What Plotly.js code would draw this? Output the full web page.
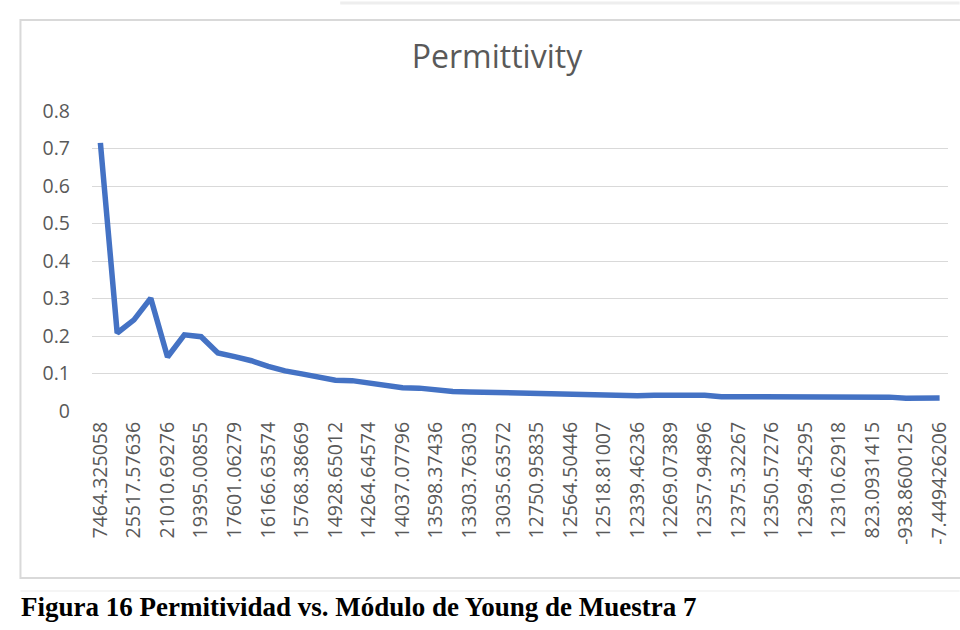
<!DOCTYPE html>
<html>
<head>
<meta charset="utf-8">
<script src="https://cdn.plot.ly/plotly-3.0.1.min.js"></script>
<style>
  html, body { margin: 0; padding: 0; background: #ffffff; }
  #chart { width: 960px; height: 630px; }
</style>
</head>
<body>
<div id="chart"></div>
<script>
// ---- data ----
const chartTitle = "Permittivity";
const caption = "Figura 16 Permitividad vs. Módulo de Young de Muestra 7";

// visible category labels (every other category is labeled)
const tickLabels = [
  "7464.325058", "25517.57636", "21010.69276", "19395.00855", "17601.06279",
  "16166.63574", "15768.38669", "14928.65012", "14264.64574", "14037.07796",
  "13598.37436", "13303.76303", "13035.63572", "12750.95835", "12564.50446",
  "12518.81007", "12339.46236", "12269.07389", "12357.94896", "12375.32267",
  "12350.57276", "12369.45295", "12310.62918", "823.0931415", "-938.8600125",
  "-7.449426206"
];

// permittivity values, one per category (51 categories)
const permittivity = [
  0.715, 0.208, 0.243, 0.301, 0.144, 0.203, 0.198, 0.155, 0.145, 0.134,
  0.119, 0.107, 0.099, 0.090, 0.082, 0.081, 0.075, 0.068, 0.062, 0.061,
  0.055, 0.052, 0.051, 0.050, 0.047, 0.046, 0.048, 0.047, 0.044, 0.044,
  0.044, 0.041, 0.041, 0.042, 0.042, 0.042, 0.042, 0.038, 0.038, 0.038,
  0.038, 0.038, 0.038, 0.038, 0.038, 0.038, 0.038, 0.037, 0.034, 0.034,
  0.035
];

const yTicks = [0, 0.1, 0.2, 0.3, 0.4, 0.5, 0.6, 0.7, 0.8];
const yTickText = ["0", "0.1", "0.2", "0.3", "0.4", "0.5", "0.6", "0.7", "0.8"];

// ---- build ----
const idx = permittivity.map((_, i) => i);
const tickIdx = tickLabels.map((_, i) => i * 2);

const W = 960, H = 630;
const L = 91.6, R = 948.4, T = 111, B = 411;
const px = x => (x - L) / (R - L);
const py = y => (B - y) / (B - T);

const trace = {
  x: idx,
  y: permittivity,
  type: "scatter",
  mode: "lines",
  line: { color: "#4472C4", width: 5.5 },
  hoverinfo: "y"
};

const tickFont = { family: "Open Sans, Noto Sans, sans-serif", size: 19.5, color: "#595959" };

const layout = {
  width: W, height: H,
  margin: { l: L, r: W - R, t: T, b: H - B, pad: 0 },
  paper_bgcolor: "rgba(0,0,0,0)",
  plot_bgcolor: "rgba(0,0,0,0)",
  showlegend: false,
  title: {
    text: chartTitle,
    font: { family: "Open Sans, Noto Sans, sans-serif", size: 32, color: "#595959" },
    x: 497 / W, xref: "container", xanchor: "center",
    y: 1 - 57 / H, yref: "container", yanchor: "middle"
  },
  xaxis: {
    range: [-0.5, 50.5],
    tickmode: "array",
    tickvals: tickIdx,
    ticktext: tickLabels,
    tickangle: -90,
    tickfont: tickFont,
    showgrid: false,
    zeroline: false,
    showline: false,
    ticks: "",
    ticklabelstandoff: 6,
    fixedrange: true
  },
  yaxis: {
    range: [0, 0.8],
    tickmode: "array",
    tickvals: yTicks,
    ticktext: yTickText,
    tickfont: tickFont,
    showgrid: true,
    gridcolor: "#d9d9d9",
    gridwidth: 1,
    zeroline: false,
    showline: false,
    ticks: "",
    ticklabelstandoff: 21,
    fixedrange: true
  },
  shapes: [
    { type: "rect", xref: "paper", yref: "paper",
      x0: px(20), x1: px(980), y0: py(20), y1: py(578),
      line: { color: "#d9d9d9", width: 2 }, fillcolor: "rgba(0,0,0,0)", layer: "below" },
    { type: "line", xref: "paper", yref: "paper",
      x0: px(340), x1: px(960), y0: py(3), y1: py(3),
      line: { color: "#eeeeee", width: 3 } },
    { type: "line", xref: "paper", yref: "paper",
      x0: px(20), x1: px(960), y0: py(591), y1: py(591),
      line: { color: "#f2f2f2", width: 1.5 } }
  ],
  annotations: [
    { text: "<b>" + caption + "</b>", xref: "paper", yref: "paper",
      x: px(19), y: py(607), xanchor: "left", yanchor: "middle",
      showarrow: false,
      font: { family: "Liberation Serif, Times New Roman, serif", size: 27, color: "#000000" } }
  ]
};

Plotly.newPlot("chart", [trace], layout, { displayModeBar: false, staticPlot: true });
</script>
</body>
</html>
